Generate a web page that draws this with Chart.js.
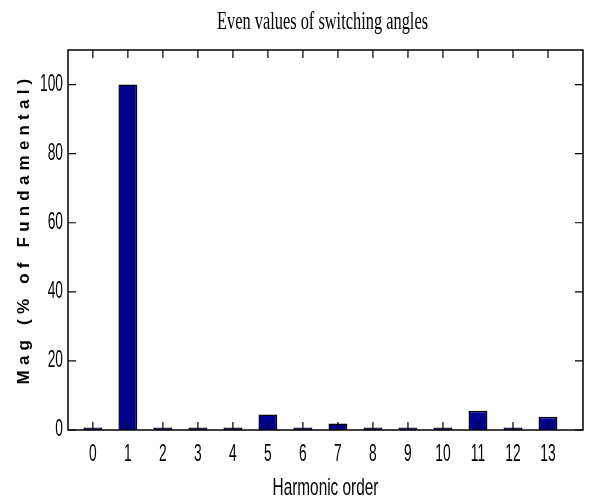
<!DOCTYPE html>
<html>
<head>
<meta charset="utf-8">
<script src="https://cdn.jsdelivr.net/npm/chart.js@4/dist/chart.umd.min.js"></script>
<style>
html,body{margin:0;padding:0;background:#fff;}
#wrap{width:592px;height:504px;position:relative;}
</style>
</head>
<body>
<div id="wrap"><canvas id="c" width="592" height="504"></canvas></div>
<script>
const chartTitle = "Even values of switching angles";
const xTitle = "Harmonic order";
const yTitle = "Mag (% of Fundamental)";
const harmonics = [0,1,2,3,4,5,6,7,8,9,10,11,12,13];
const magnitudes = [0.7,100,0.7,0.7,0.7,4.5,0.7,1.9,0.7,0.7,0.7,5.6,0.7,3.8];
const yTickValues = [0,20,40,60,80,100];

const sans = "'Liberation Sans', Arial, sans-serif";
const serif = "'Liberation Serif', 'Times New Roman', serif";

function squeezedText(ctx, text, x, y, sx, font, align, baseline) {
  ctx.save();
  ctx.font = font;
  ctx.textAlign = align;
  ctx.textBaseline = baseline;
  ctx.translate(x, y);
  ctx.scale(sx, 1);
  ctx.fillText(text, 0, 0);
  ctx.restore();
}

const boxPlugin = {
  id: 'box',
  afterDraw(chart) {
    const ctx = chart.ctx;
    const a = chart.chartArea;
    const xs = chart.scales.x, ys = chart.scales.y;
    const tl = 8;
    ctx.save();
    ctx.fillStyle = '#000';
    ctx.strokeStyle = '#000';
    ctx.lineWidth = 1.5;
    ctx.strokeRect(a.left, a.top, a.right - a.left, a.bottom - a.top);
    ctx.beginPath();
    harmonics.forEach(v => {
      const px = xs.getPixelForValue(v);
      ctx.moveTo(px, a.bottom); ctx.lineTo(px, a.bottom - tl);
      ctx.moveTo(px, a.top); ctx.lineTo(px, a.top + tl);
    });
    yTickValues.forEach(v => {
      const py = ys.getPixelForValue(v);
      ctx.moveTo(a.left, py); ctx.lineTo(a.left + tl, py);
      ctx.moveTo(a.right, py); ctx.lineTo(a.right - tl, py);
    });
    ctx.lineWidth = 1.2;
    ctx.stroke();

    const cx = (a.left + a.right) / 2;
    // tick labels
    harmonics.forEach(v => {
      squeezedText(ctx, String(v), xs.getPixelForValue(v), a.bottom + 25, 0.6, '23px ' + sans, 'center', 'middle');
    });
    yTickValues.forEach(v => {
      squeezedText(ctx, String(v), a.left - 5, ys.getPixelForValue(v), 0.6, '23px ' + sans, 'right', 'middle');
    });
    // x title
    squeezedText(ctx, xTitle, cx, a.bottom + 65, 0.64, '24px ' + sans, 'center', 'alphabetic');
    // chart title
    squeezedText(ctx, chartTitle, cx - 3, 29, 0.63, '26px ' + serif, 'center', 'alphabetic');

    // y title
    ctx.translate(24, 229);
    ctx.rotate(-Math.PI / 2);
    ctx.font = "bold 17px " + sans;
    ctx.letterSpacing = '5.2px';
    ctx.textAlign = 'center';
    ctx.textBaseline = 'middle';
    ctx.fillText(yTitle, 0, 0);
    ctx.restore();
  }
};

new Chart(document.getElementById('c'), {
  type: 'bar',
  data: {
    datasets: [{
      data: harmonics.map((h, i) => ({x: h, y: magnitudes[i]})),
      backgroundColor: '#00008F',
      borderColor: '#000',
      borderWidth: 1.5,
      barPercentage: 0.54,
      categoryPercentage: 1
    }]
  },
  options: {
    responsive: false,
    animation: false,
    layout: {padding: {left: 68, right: 9, top: 50, bottom: 74}},
    plugins: {
      legend: {display: false},
      tooltip: {enabled: false},
      title: {display: false}
    },
    scales: {
      x: {
        type: 'linear',
        offset: false,
        min: -0.71,
        max: 14,
        afterBuildTicks: s => { s.ticks = harmonics.map(v => ({value: v})); },
        afterFit: s => { s.height = 0; },
        grid: {display: false},
        border: {display: false},
        ticks: {display: false}
      },
      y: {
        min: 0,
        max: 110,
        afterBuildTicks: s => { s.ticks = yTickValues.map(v => ({value: v})); },
        afterFit: s => { s.width = 0; },
        grid: {display: false},
        border: {display: false},
        ticks: {display: false}
      }
    }
  },
  plugins: [boxPlugin]
});
</script>
</body>
</html>
